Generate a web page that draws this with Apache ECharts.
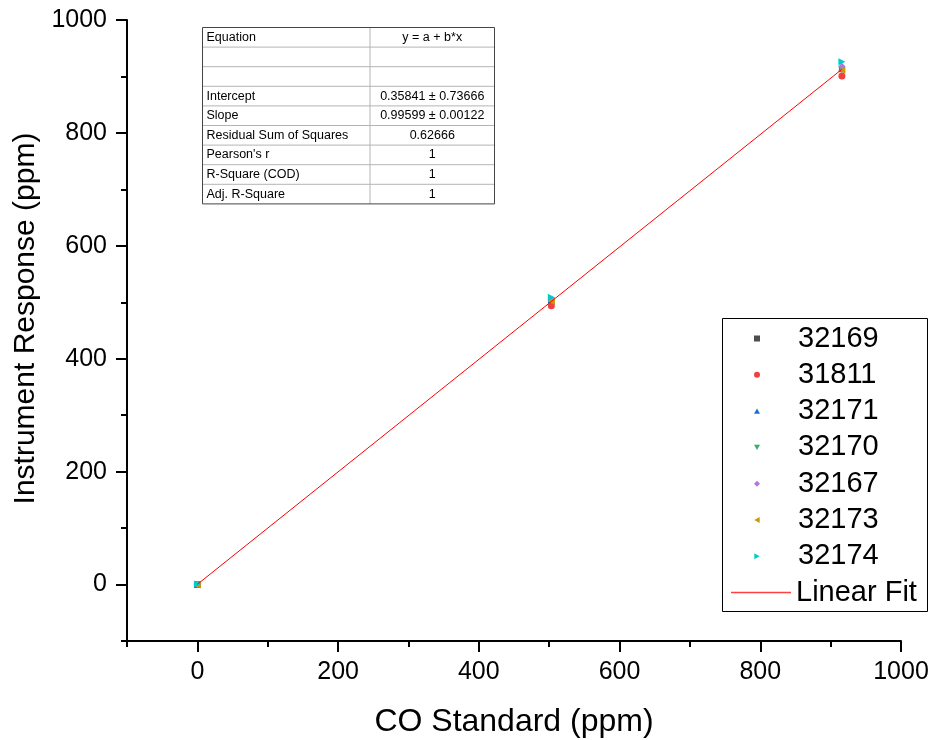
<!DOCTYPE html>
<html>
<head>
<meta charset="utf-8">
<script src="https://cdn.jsdelivr.net/npm/echarts@6/dist/echarts.min.js"></script>
<style>html,body{margin:0;padding:0;background:#fff}#c{width:932px;height:740px}</style>
</head>
<body>
<div id="c"></div>
<script>
// ---- data ----
var standardX = [0, 503, 916];
var seriesNames = ['32169', '31811', '32171', '32170', '32167', '32173', '32174'];
var s32169 = [0, 501, 913];
var s31811 = [0, 494, 901];
var s32171 = [0, 505, 915];
var s32170 = [0, 503, 912];
var s32167 = [0, 504, 918];
var s32173 = [-1, 502, 911];
var s32174 = [1, 509, 926];
var fitName = 'Linear Fit';
var fitX = [0, 916];
var fitY = [0.36, 912.7];
var majorTicks = [0, 200, 400, 600, 800, 1000];
var minorTicks = [-100, 100, 300, 500, 700, 900];
var tableRows = [
  ['Equation', 'y = a + b*x'],
  ['', ''],
  ['', ''],
  ['Intercept', '0.35841 \u00b1 0.73666'],
  ['Slope', '0.99599 \u00b1 0.00122'],
  ['Residual Sum of Squares', '0.62666'],
  ["Pearson's r", '1'],
  ['R-Square (COD)', '1'],
  ['Adj. R-Square', '1']
];

var FONT = '"Liberation Sans", Arial, Helvetica, sans-serif';
var values = [s32169, s31811, s32171, s32170, s32167, s32173, s32174];
var colors = ['#4d4d4d', '#f14040', '#1a6fdf', '#37ad6b', '#b177de', '#cc9900', '#00cbcc'];
var symbols = ['rect', 'circle', 'triangle', 'triangle', 'diamond', 'triangle', 'triangle'];
var rotates = [0, 0, 0, 180, 0, 90, -90];
var sizes = [6, 7, 7, 7, 7, 7, 7];
var legendIcons = [
  'path://M0,0L1,0L1,1L0,1Z',
  'circle',
  'path://M0.5,0L1,0.9L0,0.9Z',
  'path://M0,0L1,0L0.5,0.9Z',
  'path://M0.5,0L1,0.5L0.5,1L0,0.5Z',
  'path://M0,0.5L0.9,0L0.9,1Z',
  'path://M0,0L0.9,0.5L0,1Z'
];

function pairs(xs, ys) { return xs.map(function (x, i) { return [x, ys[i]]; }); }

var series = seriesNames.map(function (n, i) {
  return {
    name: n, type: 'scatter', xAxisIndex: 0, yAxisIndex: 0,
    data: pairs(standardX, values[i]),
    symbol: symbols[i], symbolRotate: rotates[i], symbolSize: sizes[i],
    itemStyle: { color: colors[i], opacity: 1 },
    emphasis: { disabled: true }, z: 2
  };
});
series.push({
  name: fitName, type: 'line', xAxisIndex: 0, yAxisIndex: 0,
  data: pairs(fitX, fitY), symbol: 'none', showSymbol: false,
  lineStyle: { color: '#ff0000', width: 1 }, itemStyle: { color: '#ff0000' },
  emphasis: { disabled: true }, z: 3
});

// table graphic
var tLeft = 202.5, tRight = 494.5, tDiv = 370, tTop = 27.5, rowH = 19.6;
var tEls = [];
for (var r = 1; r < tableRows.length; r++) {
  tEls.push({ type: 'line', shape: { x1: tLeft, y1: tTop + r * rowH, x2: tRight, y2: tTop + r * rowH }, style: { stroke: '#b4b4b4', lineWidth: 1 } });
}
tEls.push({ type: 'line', shape: { x1: tDiv, y1: tTop, x2: tDiv, y2: tTop + tableRows.length * rowH }, style: { stroke: '#b4b4b4', lineWidth: 1 } });
tEls.push({ type: 'rect', shape: { x: tLeft, y: tTop, width: tRight - tLeft, height: tableRows.length * rowH }, style: { fill: 'none', stroke: '#444', lineWidth: 1 } });
tableRows.forEach(function (row, i) {
  var cy = tTop + (i + 0.5) * rowH;
  tEls.push({ type: 'text', x: tLeft + 4, y: cy, style: { text: row[0], font: '12.5px ' + FONT, fill: '#000', textAlign: 'left', textVerticalAlign: 'middle' } });
  tEls.push({ type: 'text', x: (tDiv + tRight) / 2, y: cy, style: { text: row[1], font: '12.5px ' + FONT, fill: '#000', textAlign: 'center', textVerticalAlign: 'middle' } });
});
// legend frame
tEls.push({ type: 'rect', shape: { x: 722.5, y: 318.5, width: 205, height: 293 }, style: { fill: 'none', stroke: '#000', lineWidth: 1 } });

var axisLine = { show: true, onZero: false, lineStyle: { color: '#000', width: 2 } };
var noLine = { show: false, onZero: false };
var labelFmt = function (v) { return String(v); };

var option = {
  backgroundColor: '#fff',
  animation: false,
  textStyle: { fontFamily: FONT },
  grid: { left: 127, right: 31, top: 20, bottom: 99, containLabel: false, outerBoundsMode: 'none' },
  legend: [{
    orient: 'vertical', left: 754, top: 324,
    data: seriesNames.map(function (n, i) { return { name: n, icon: legendIcons[i], itemStyle: { color: colors[i] } }; }),
    itemWidth: 6, itemHeight: 6, itemGap: 7.3, selectedMode: false,
    padding: 0, symbolKeepAspect: true,
    textStyle: { fontFamily: FONT, fontSize: 29, color: '#000', lineHeight: 28, padding: [0, 0, 0, 33] }
  }, {
    orient: 'vertical', left: 731, top: 578,
    data: [{ name: fitName, icon: 'rect', itemStyle: { color: '#ff4040' } }],
    itemWidth: 60, itemHeight: 1.5, itemGap: 8, selectedMode: false,
    padding: 0, symbolKeepAspect: false,
    textStyle: { fontFamily: FONT, fontSize: 29, color: '#000', lineHeight: 28 }
  }],
  xAxis: [{
    type: 'value', min: -100, max: 1000, interval: 100, position: 'bottom',
    name: 'CO Standard (ppm)', nameLocation: 'middle', nameGap: 65,
    nameTextStyle: { fontFamily: FONT, fontSize: 32, color: '#000' },
    axisLine: axisLine,
    axisTick: { show: true, inside: false, length: 11, customValues: majorTicks, lineStyle: { color: '#000', width: 2 } },
    axisLabel: { show: true, margin: 19, customValues: majorTicks, formatter: labelFmt, fontFamily: FONT, fontSize: 25, color: '#000' },
    splitLine: { show: false }
  }, {
    type: 'value', min: -100, max: 1000, interval: 100, position: 'bottom',
    axisLine: noLine,
    axisTick: { show: true, inside: false, length: 6, customValues: minorTicks, lineStyle: { color: '#000', width: 2 } },
    axisLabel: { show: false }, splitLine: { show: false }
  }],
  yAxis: [{
    type: 'value', min: -100, max: 1000, interval: 100, position: 'left',
    name: 'Instrument Response (ppm)', nameLocation: 'middle', nameGap: 84,
    nameTextStyle: { fontFamily: FONT, fontSize: 30, color: '#000', padding: [0, 0, 0, 24] },
    axisLine: axisLine,
    axisTick: { show: true, inside: false, length: 11, customValues: majorTicks, lineStyle: { color: '#000', width: 2 } },
    axisLabel: { show: true, margin: 20, customValues: majorTicks, formatter: labelFmt, fontFamily: FONT, fontSize: 25, color: '#000' },
    splitLine: { show: false }
  }, {
    type: 'value', min: -100, max: 1000, interval: 100, position: 'left',
    axisLine: noLine,
    axisTick: { show: true, inside: false, length: 6, customValues: minorTicks, lineStyle: { color: '#000', width: 2 } },
    axisLabel: { show: false }, splitLine: { show: false }
  }],
  graphic: [{ type: 'group', z: 10, children: tEls }],
  series: series
};

var chart = echarts.init(document.getElementById('c'), null, { renderer: 'canvas' });
chart.setOption(option);
</script>
</body>
</html>
